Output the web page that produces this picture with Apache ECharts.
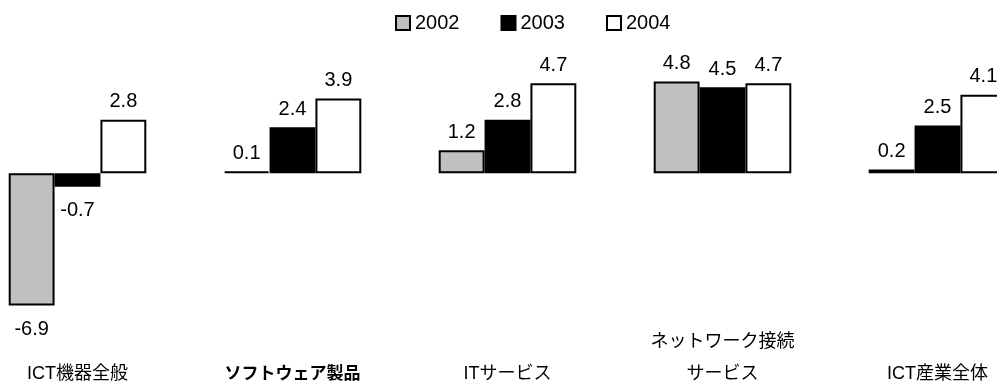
<!DOCTYPE html>
<html>
<head>
<meta charset="utf-8">
<script src="https://cdn.jsdelivr.net/npm/echarts@6/dist/echarts.min.js"></script>
<style>
  html, body { margin: 0; padding: 0; background: #fff; }
  #chart { width: 997px; height: 383px; }
</style>
</head>
<body>
<div id="chart"></div>
<script>
const categories = ['ICT機器全般', 'ソフトウェア製品', 'ITサービス', 'ネットワーク接続\nサービス', 'ICT産業全体'];
const years = ['2002', '2003', '2004'];
const v2002 = [-6.9, 0.1, 1.2, 4.8, 0.2];
const v2003 = [-0.7, 2.4, 2.8, 4.5, 2.5];
const v2004 = [2.8, 3.9, 4.7, 4.7, 4.1];

const fontFamily = '"Liberation Sans", Arial, "Noto Sans CJK JP", sans-serif';

// negative values get their label under the bar
function withLabels(arr) {
  return arr.map(v => ({
    value: v,
    label: v < 0 ? { position: 'bottom', distance: 14 } : { position: 'top', distance: 8 }
  }));
}

const chart = echarts.init(document.getElementById('chart'));

const fills = ['#c0c0c0', '#000000', '#ffffff'];
const seriesData = [v2002, v2003, v2004];

const catLabel = { fontSize: 18, lineHeight: 32, verticalAlign: 'bottom', color: '#000' };

const option = {
  animation: false,
  textStyle: { fontFamily: fontFamily },
  legend: {
    data: years,
    top: 8,
    left: 390,
    icon: 'rect',
    itemWidth: 14,
    itemHeight: 14,
    itemGap: 41,
    textStyle: { fontSize: 20, color: '#000', fontFamily: fontFamily }
  },
  grid: { left: -30, right: -48, top: 58.4, bottom: 56.5, outerBoundsMode: 'none', containLabel: false },
  xAxis: {
    type: 'category',
    data: categories.map((c, i) => i === 1
      ? { value: c, textStyle: Object.assign({}, catLabel, { fontWeight: 'bold', fontSize: 17 }) }
      : c),
    axisLine: { show: false },
    axisTick: { show: false },
    axisLabel: Object.assign({
      interval: 0,
      margin: 64,
      fontFamily: fontFamily
    }, catLabel)
  },
  yAxis: {
    type: 'value',
    min: -8,
    max: 6,
    show: false,
    splitLine: { show: false }
  },
  series: years.map((y, i) => ({
    name: y,
    type: 'bar',
    data: withLabels(seriesData[i]),
    barGap: '0%',
    barCategoryGap: '36%',
    itemStyle: { color: fills[i], borderColor: '#000', borderWidth: 2 },
    label: { show: true, color: '#000', fontSize: 20, fontFamily: fontFamily }
  }))
};

chart.setOption(option);
</script>
</body>
</html>
